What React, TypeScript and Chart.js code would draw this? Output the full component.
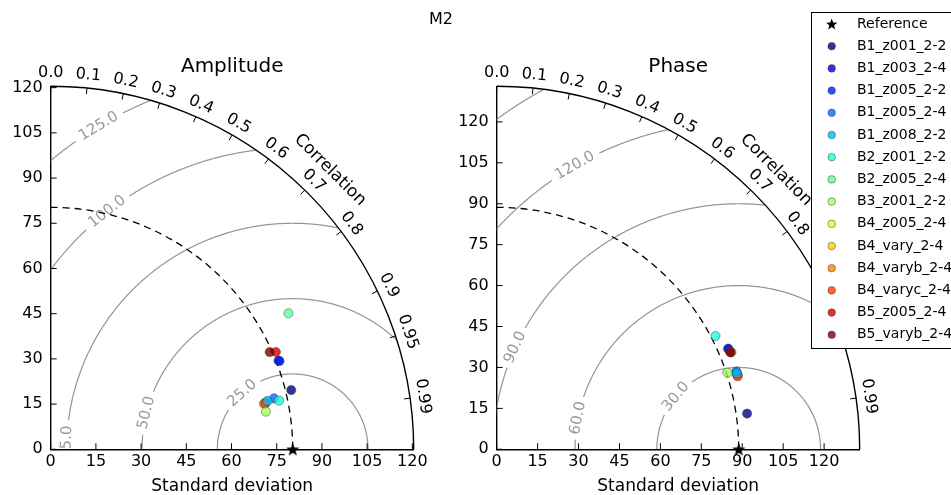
import React, { useEffect, useRef } from 'react';
import { Chart, registerables } from 'chart.js';

Chart.register(...registerables);

const FIG_W = 951;
const FIG_H = 495;
const FONT = "'DejaVu Sans', 'Liberation Sans', sans-serif";

// ---------------- data ----------------
const figureTitle = 'M2';
const referenceLabel = 'Reference';
const modelNames = [
  'B1_z001_2-2', 'B1_z003_2-4', 'B1_z005_2-2', 'B1_z005_2-4', 'B1_z008_2-2',
  'B2_z001_2-2', 'B2_z005_2-4', 'B3_z001_2-2', 'B4_z005_2-4', 'B4_vary_2-4',
  'B4_varyb_2-4', 'B4_varyc_2-4', 'B5_z005_2-4', 'B5_varyb_2-4',
];
const modelColors = [
  'rgba(0,0,128,0.8)', 'rgba(0,0,217,0.8)', 'rgba(0,30,255,0.8)', 'rgba(0,108,255,0.8)',
  'rgba(0,187,255,0.8)', 'rgba(29,255,218,0.8)', 'rgba(92,255,156,0.8)', 'rgba(156,255,92,0.8)',
  'rgba(218,255,28,0.8)', 'rgba(255,206,0,0.8)', 'rgba(255,133,0,0.8)', 'rgba(255,60,0,0.8)',
  'rgba(217,0,0,0.8)', 'rgba(128,0,0,0.8)',
];
// drawing layer (lower number = drawn first / underneath)
const modelLayer = [5, 6, 7, 8, 9, 10, 11, 12, 1, 2, 3, 4, 13, 14];

const amplitudeTitle = 'Amplitude';
const amplitudeRefStd = 80.3;
const amplitudeStd = [82.2, 81.1, 81.4, 76.0, 73.7, 77.5, 90.9, 72.5, 72.9, 72.6, 72.4, 72.9, 81.4, 79.5];
const amplitudeCorr = [0.971, 0.932, 0.933, 0.975, 0.976, 0.978, 0.868, 0.985, 0.977, 0.978, 0.978, 0.978, 0.918, 0.914];
const amplitudeRmsLevels = [25, 50, 75, 100, 125];

const phaseTitle = 'Phase';
const phaseRefStd = 88.7;
const phaseStd = [92.7, 92.5, 92.6, 92.4, 92.3, 90.3, 93.1, 89.1, 92.3, 92.4, 92.3, 92.3, 92.7, 92.8];
const phaseCorr = [0.990, 0.917, 0.918, 0.951, 0.953, 0.888, 0.924, 0.949, 0.954, 0.955, 0.956, 0.957, 0.923, 0.924];
const phaseRmsLevels = [30, 60, 90, 120, 150];

const stdTicks = [0, 15, 30, 45, 60, 75, 90, 105, 120];
const corrTicks = [0, 0.1, 0.2, 0.3, 0.4, 0.5, 0.6, 0.7, 0.8, 0.9, 0.95, 0.99];
const stdRangeFactor = 1.5;
const stdAxisTitle = 'Standard deviation';
const corrAxisTitle = 'Correlation';

// ---------------- layout / style ----------------
const amplitudeLabelAngles: Record<number, number> = { 25: 132, 50: 166, 75: 178.2, 100: 128, 125: 121 };
const phaseLabelAngles: Record<number, number> = { 30: 140, 60: 169, 90: 155.5, 120: 120 };

const Y_AXIS_W = 50.7;
const X_AXIS_H = 45.7;
const PLOT_SIZE = 363;

function makeStar(outer: number, inner: number, color = '#000') {
  const size = Math.ceil(outer * 2 + 2);
  const c = document.createElement('canvas');
  c.width = size;
  c.height = size;
  const g = c.getContext('2d')!;
  drawStarPath(g, size / 2, size / 2 + outer * 0.1, outer, inner);
  g.fillStyle = color;
  g.fill();
  return c;
}

function drawStarPath(g: CanvasRenderingContext2D, cx: number, cy: number, outer: number, inner: number) {
  g.beginPath();
  for (let i = 0; i < 10; i++) {
    const r = i % 2 === 0 ? outer : inner;
    const a = -Math.PI / 2 + (i * Math.PI) / 5;
    const x = cx + r * Math.cos(a);
    const y = cy + r * Math.sin(a);
    if (i === 0) g.moveTo(x, y);
    else g.lineTo(x, y);
  }
  g.closePath();
}

interface PanelCfg {
  title: string;
  refStd: number;
  std: number[];
  corr: number[];
  rmsLevels: number[];
  labelAngles: Record<number, number>;
  padLeft: number;
  withLegend: boolean;
}

function taylorPlugin(cfg: PanelCfg, smax: number) {
  return {
    id: 'taylor',
    beforeDatasetsDraw(chart: any) {
      const ctx: CanvasRenderingContext2D = chart.ctx;
      const xs = chart.scales.x;
      const ys = chart.scales.y;
      const ox = xs.getPixelForValue(0);
      const oy = ys.getPixelForValue(0);
      const k = xs.getPixelForValue(1) - ox;
      const R = smax * k;

      // RMS contours (clipped to quarter disk)
      ctx.save();
      ctx.beginPath();
      ctx.moveTo(ox, oy);
      ctx.arc(ox, oy, R, -Math.PI / 2, 0);
      ctx.closePath();
      ctx.clip();
      const cx = xs.getPixelForValue(cfg.refStd);
      ctx.font = `15px ${FONT}`;
      ctx.lineWidth = 1.2;
      ctx.strokeStyle = '#949494';
      for (const lv of cfg.rmsLevels) {
        const rr = lv * k;
        const lab = cfg.labelAngles[lv];
        const text = lv.toFixed(1);
        let gap = 0;
        if (lab !== undefined) {
          gap = (ctx.measureText(text).width / 2 + 5) / rr;
        }
        ctx.beginPath();
        let pen = false;
        for (let a = 0; a <= 180.001; a += 0.2) {
          const t = (a * Math.PI) / 180;
          if (lab !== undefined && Math.abs(t - (lab * Math.PI) / 180) < gap) {
            pen = false;
            continue;
          }
          const x = cx + rr * Math.cos(t);
          const y = oy - rr * Math.sin(t);
          if (!pen) {
            ctx.moveTo(x, y);
            pen = true;
          } else ctx.lineTo(x, y);
        }
        ctx.stroke();
        if (lab !== undefined) {
          const t = (lab * Math.PI) / 180;
          ctx.save();
          ctx.translate(cx + rr * Math.cos(t), oy - rr * Math.sin(t));
          ctx.rotate(((90 - lab) * Math.PI) / 180);
          ctx.fillStyle = '#999';
          ctx.textAlign = 'center';
          ctx.textBaseline = 'middle';
          ctx.fillText(text, 0, 0);
          ctx.restore();
        }
      }
      ctx.restore();

      // reference std dashed arc
      ctx.save();
      ctx.strokeStyle = '#000';
      ctx.lineWidth = 1.3;
      ctx.setLineDash([7, 5]);
      ctx.beginPath();
      ctx.arc(ox, oy, cfg.refStd * k, -Math.PI / 2, 0);
      ctx.stroke();
      ctx.restore();

      // outer correlation arc
      ctx.save();
      ctx.strokeStyle = '#000';
      ctx.lineWidth = 1.4;
      ctx.beginPath();
      ctx.arc(ox, oy, R, -Math.PI / 2, 0);
      ctx.stroke();

      ctx.lineWidth = 1;
      ctx.fillStyle = '#000';
      ctx.font = `16px ${FONT}`;
      ctx.textAlign = 'center';
      ctx.textBaseline = 'middle';
      for (const c of corrTicks) {
        const th = Math.acos(c);
        const cs = Math.cos(th);
        const sn = Math.sin(th);
        ctx.beginPath();
        ctx.moveTo(ox + R * cs, oy - R * sn);
        ctx.lineTo(ox + (R - 6) * cs, oy - (R - 6) * sn);
        ctx.stroke();
        const lr = R + 13;
        ctx.save();
        ctx.translate(ox + lr * cs, oy - lr * sn);
        ctx.rotate(Math.PI / 2 - th);
        ctx.fillText(c >= 0.95 ? c.toFixed(2) : c.toFixed(1), 0, 0);
        ctx.restore();
      }
      // axis title on the arc
      ctx.font = `17px ${FONT}`;
      ctx.save();
      const lr = R + 32;
      ctx.translate(ox + lr * Math.SQRT1_2, oy - lr * Math.SQRT1_2);
      ctx.rotate(Math.PI / 4);
      ctx.fillText(corrAxisTitle, 0, 0);
      ctx.restore();

      // inward ticks on the std axes
      ctx.beginPath();
      for (const v of stdTicks) {
        const px = xs.getPixelForValue(v);
        const py = ys.getPixelForValue(v);
        ctx.moveTo(px, oy);
        ctx.lineTo(px, oy - 6);
        ctx.moveTo(ox, py);
        ctx.lineTo(ox + 6, py);
      }
      ctx.stroke();
      ctx.restore();
    },
    afterDraw(chart: any) {
      const ctx: CanvasRenderingContext2D = chart.ctx;
      const area = chart.chartArea;
      ctx.save();
      ctx.fillStyle = '#000';
      ctx.textAlign = 'center';
      ctx.textBaseline = 'middle';
      ctx.font = `20px ${FONT}`;
      ctx.fillText(cfg.title, (area.left + area.right) / 2, 67);

      if (cfg.withLegend) {
        ctx.font = `16px ${FONT}`;
        ctx.fillText(figureTitle, 441, 20);

        // legend
        const bx = 811.5;
        const by = 12.5;
        ctx.fillStyle = '#fff';
        ctx.fillRect(bx, by, 160, 336);
        ctx.strokeStyle = '#000';
        ctx.lineWidth = 1;
        ctx.strokeRect(bx, by, 160, 336);
        ctx.font = `14px ${FONT}`;
        ctx.textAlign = 'left';
        const rowY = (i: number) => 24 + 22.2 * i;
        drawStarPath(ctx, 831.7, rowY(0) + 0.6, 6, 2.5);
        ctx.fillStyle = '#000';
        ctx.fill();
        ctx.fillText(referenceLabel, 857, rowY(0));
        modelNames.forEach((name, i) => {
          const y = rowY(i + 1);
          ctx.beginPath();
          ctx.arc(831.7, y, 3.8, 0, Math.PI * 2);
          ctx.fillStyle = modelColors[i];
          ctx.fill();
          ctx.strokeStyle = 'rgba(60,60,60,0.6)';
          ctx.lineWidth = 0.8;
          ctx.stroke();
          ctx.fillStyle = '#000';
          ctx.fillText(name, 857, y);
        });
      }
      ctx.restore();
    },
  };
}

function buildConfig(cfg: PanelCfg, star: HTMLCanvasElement): any {
  const smax = cfg.refStd * stdRangeFactor;
  const datasets: any[] = modelNames.map((name, i) => {
    const s = cfg.std[i];
    const c = cfg.corr[i];
    return {
      label: name,
      data: [{ x: s * c, y: s * Math.sqrt(1 - c * c) }],
      backgroundColor: modelColors[i],
      borderColor: 'rgba(50,50,50,0.55)',
      borderWidth: 0.8,
      pointRadius: 4.6,
      order: 100 - modelLayer[i],
      clip: false,
    };
  });
  datasets.push({
    label: referenceLabel,
    data: [{ x: cfg.refStd, y: 0 }],
    pointStyle: star,
    pointRadius: 7,
    backgroundColor: '#000',
    borderColor: '#000',
    order: 0,
    clip: false,
  });

  const tickFont = { family: FONT, size: 16 };
  return {
    type: 'scatter',
    data: { datasets },
    options: {
      responsive: false,
      animation: false,
      devicePixelRatio: 1,
      events: [],
      layout: {
        padding: {
          left: cfg.padLeft,
          right: FIG_W - (cfg.padLeft + Y_AXIS_W + PLOT_SIZE),
          top: FIG_H - X_AXIS_H - PLOT_SIZE,
          bottom: 0,
        },
      },
      plugins: {
        legend: { display: false },
        tooltip: { enabled: false },
        title: { display: false },
      },
      scales: {
        x: {
          type: 'linear',
          min: 0,
          max: smax,
          afterBuildTicks: (s: any) => {
            s.ticks = stdTicks.map((v) => ({ value: v }));
          },
          afterFit: (s: any) => {
            s.height = X_AXIS_H;
          },
          grid: { display: false, drawTicks: false },
          border: { display: true, color: '#000', width: 1.4 },
          ticks: { color: '#000', font: tickFont, padding: 3, maxRotation: 0, autoSkip: false },
          title: {
            display: true,
            text: stdAxisTitle,
            color: '#000',
            font: { family: FONT, size: 17, lineHeight: 1 },
            padding: { top: 0, bottom: 0 },
          },
        },
        y: {
          type: 'linear',
          min: 0,
          max: smax,
          afterBuildTicks: (s: any) => {
            s.ticks = stdTicks.map((v) => ({ value: v }));
          },
          afterFit: (s: any) => {
            s.width = Y_AXIS_W;
          },
          grid: { display: false, drawTicks: false },
          border: { display: true, color: '#000', width: 1.4 },
          ticks: { color: '#000', font: tickFont, padding: 8, autoSkip: false },
        },
      },
    },
    plugins: [taylorPlugin(cfg, smax)],
  };
}

export default function App() {
  const leftRef = useRef<HTMLCanvasElement>(null);
  const rightRef = useRef<HTMLCanvasElement>(null);

  useEffect(() => {
    const star = makeStar(7, 2.9);
    const left = new Chart(
      leftRef.current!,
      buildConfig(
        {
          title: amplitudeTitle,
          refStd: amplitudeRefStd,
          std: amplitudeStd,
          corr: amplitudeCorr,
          rmsLevels: amplitudeRmsLevels,
          labelAngles: amplitudeLabelAngles,
          padLeft: 0,
          withLegend: false,
        },
        star
      )
    );
    const right = new Chart(
      rightRef.current!,
      buildConfig(
        {
          title: phaseTitle,
          refStd: phaseRefStd,
          std: phaseStd,
          corr: phaseCorr,
          rmsLevels: phaseRmsLevels,
          labelAngles: phaseLabelAngles,
          padLeft: 446,
          withLegend: true,
        },
        star
      )
    );
    return () => {
      left.destroy();
      right.destroy();
    };
  }, []);

  const canvasStyle: React.CSSProperties = { position: 'absolute', left: 0, top: 0, width: FIG_W, height: FIG_H };
  return (
    <div style={{ position: 'absolute', left: 0, top: 0, width: FIG_W, height: FIG_H, background: '#fff', overflow: 'hidden' }}>
      <canvas ref={leftRef} width={FIG_W} height={FIG_H} style={canvasStyle} />
      <canvas ref={rightRef} width={FIG_W} height={FIG_H} style={canvasStyle} />
    </div>
  );
}
